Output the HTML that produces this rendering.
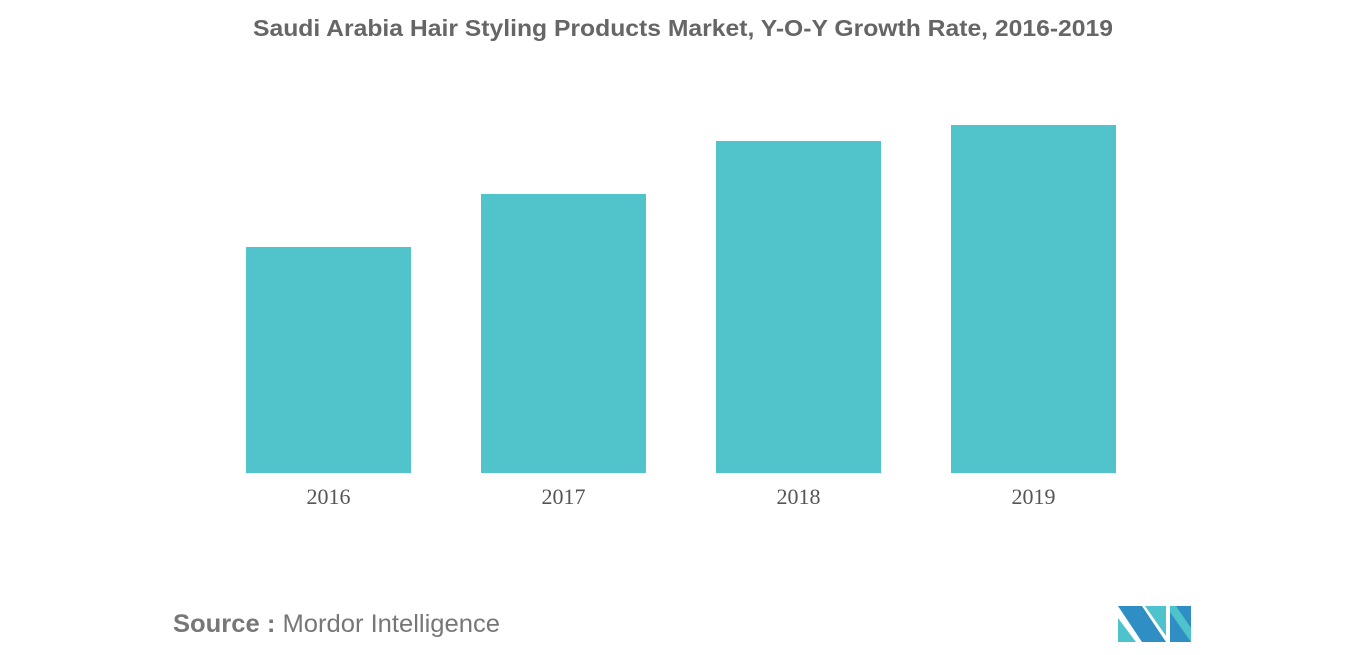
<!DOCTYPE html>
<html><head><meta charset="utf-8"><style>
body{margin:0;background:#fff;}
svg{display:block;font-family:"Liberation Sans",sans-serif;}
</style></head><body>
<svg id="c" width="1366" height="655">
<text x="253" y="36" textLength="860" lengthAdjust="spacingAndGlyphs" font-size="23" font-weight="bold" fill="#666">Saudi Arabia Hair Styling Products Market, Y-O-Y Growth Rate, 2016-2019</text>
<g id="bars"></g>
<text x="173" y="632" textLength="327" lengthAdjust="spacingAndGlyphs" font-size="25" fill="#777"><tspan font-weight="bold">Source :</tspan> Mordor Intelligence</text>
<g>
<polygon points="1118,606 1142,606 1166,642 1142,642" fill="#2f8fc4"/>
<polygon points="1118,618 1136,642 1118,642" fill="#4fc3cb"/>
<polygon points="1145,606 1166,606 1166,636" fill="#4fc3cb"/>
<polygon points="1170,606 1191,606 1191,642 1170,642" fill="#2f8fc4"/>
<polygon points="1170,606 1176,606 1191,628 1191,642 1170,612" fill="#4fc3cb"/>
</g>
</svg>
<script>
const categories=["2016","2017","2018","2019"];
const values=[226,279,332,348];
const yMax=400, base=473, top0=73;
const y=v=>base-(v/yMax)*(base-top0);
const xStart=246, step=235, bw=165;
const x=i=>xStart+i*step;
const g=document.getElementById('bars');
const ns="http://www.w3.org/2000/svg";
categories.forEach((c,i)=>{
 const r=document.createElementNS(ns,'rect');
 r.setAttribute('x',x(i));r.setAttribute('y',y(values[i]));
 r.setAttribute('width',bw);r.setAttribute('height',base-y(values[i]));
 r.setAttribute('fill','#50c4ca');
 
 
 g.appendChild(r);
 const t=document.createElementNS(ns,'text');
 t.setAttribute('x',x(i)+bw/2);t.setAttribute('y',504);
 t.setAttribute('text-anchor','middle');t.setAttribute('font-size','22');
 t.setAttribute('fill','#555');t.setAttribute('font-family','"Liberation Serif",serif');
 t.textContent=c;
 
 
 g.appendChild(t);
});
</script>
</body></html>
